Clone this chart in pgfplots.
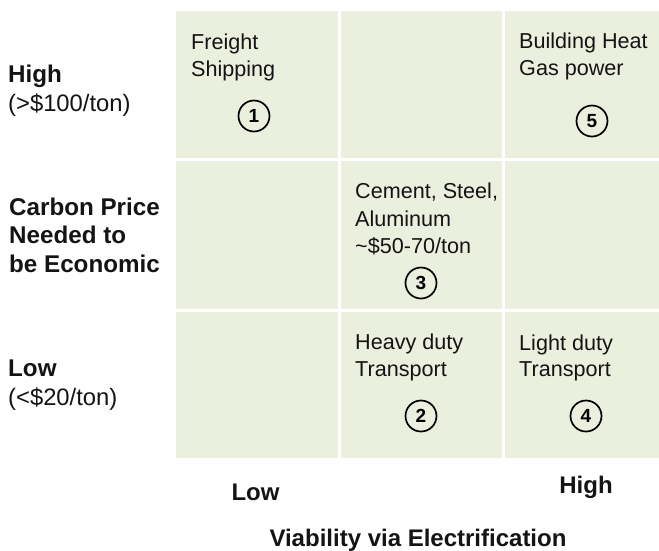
\documentclass[border=0pt]{standalone}
\usepackage{fontspec}
\setmainfont{Liberation Sans}
\usepackage{pgfplots}
\pgfplotsset{compat=1.18}
\definecolor{cellgreen}{RGB}{235,239,222}
\definecolor{txt}{RGB}{20,20,20}
\tikzset{
  cell/.style={anchor=base west, inner sep=0pt, text=txt, font=\fontsize{21.6}{25}\selectfont},
  lab/.style={anchor=base west, inner sep=0pt, text=txt, font=\fontsize{24.2}{28}\selectfont\bfseries},
  labn/.style={anchor=base west, inner sep=0pt, text=txt, font=\fontsize{23.8}{28}\selectfont},
  blab/.style={anchor=base, inner sep=0pt, text=txt, font=\fontsize{24}{28}\selectfont\bfseries},
}
\begin{document}
\begin{tikzpicture}[x=1pt,y=1pt]
\begin{axis}[
  at={(176pt,92pt)}, anchor=south west,
  scale only axis, width=483pt, height=447pt,
  xmin=176, xmax=659, ymin=11, ymax=458, y dir=reverse,
  axis line style={draw=none},
  axis background/.style={fill=cellgreen},
  xtick={339.5,503.5}, ytick={159.5,310.5},
  xticklabels={}, yticklabels={},
  major tick length=0pt,
  grid=major, major grid style={white, line width=3pt},
  clip=false,
]
\addplot[only marks, mark=o, mark size=15.5pt,
  mark options={line width=1.7pt, draw=black},
  point meta=explicit symbolic, nodes near coords,
  every node near coord/.append style={anchor=center, inner sep=0pt, text=black, font=\fontsize{19}{19}\selectfont\bfseries}]
  table[meta=label] {
x y label
254 116 1
421 416 2
421 283 3
586 416 4
592 121 5
};
% cell texts
\node[cell] at (axis cs:191,49) {Freight};
\node[cell] at (axis cs:191,76) {Shipping};
\node[cell] at (axis cs:519,48) {Building Heat};
\node[cell] at (axis cs:519,75) {Gas power};
\node[cell] at (axis cs:355,198) {Cement, Steel,};
\node[cell] at (axis cs:355,226) {Aluminum};
\node[cell] at (axis cs:355,253) {\char`\~\$50-70/ton};
\node[cell] at (axis cs:355,349) {Heavy duty};
\node[cell] at (axis cs:355,376) {Transport};
\node[cell] at (axis cs:519,350) {Light duty};
\node[cell] at (axis cs:519,376) {Transport};
% left labels
\node[lab] at (axis cs:8,82) {High};
\node[labn] at (axis cs:8,111) {(>\$100/ton)};
\node[lab] at (axis cs:9,215) {Carbon Price};
\node[lab] at (axis cs:9,243) {Needed to};
\node[lab] at (axis cs:9,272) {be Economic};
\node[lab] at (axis cs:8,376) {Low};
\node[labn] at (axis cs:8,405) {(<\$20/ton)};
% bottom labels
\node[blab] at (axis cs:255.5,500) {Low};
\node[blab] at (axis cs:586,493) {High};
\node[blab] at (axis cs:418,546) {Viability via Electrification};
\end{axis}
\pgfresetboundingbox
\useasboundingbox (0,0) rectangle (659,550);
\end{tikzpicture}
\end{document}
